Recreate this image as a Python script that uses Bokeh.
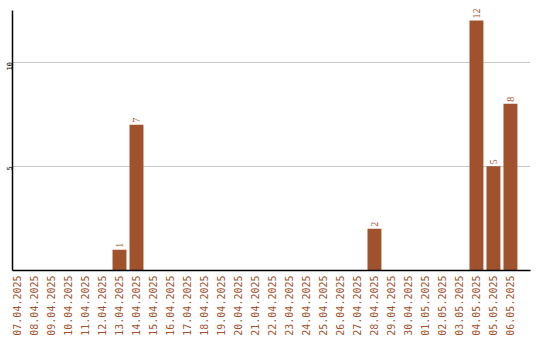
import math
from bokeh.plotting import figure
from bokeh.models import ColumnDataSource, FixedTicker, Range1d, LabelSet
from bokeh.embed import file_html
from bokeh.resources import INLINE

# daily counts
dates = [
    "07.04.2025", "08.04.2025", "09.04.2025", "10.04.2025", "11.04.2025",
    "12.04.2025", "13.04.2025", "14.04.2025", "15.04.2025", "16.04.2025",
    "17.04.2025", "18.04.2025", "19.04.2025", "20.04.2025", "21.04.2025",
    "22.04.2025", "23.04.2025", "24.04.2025", "25.04.2025", "26.04.2025",
    "27.04.2025", "28.04.2025", "29.04.2025", "30.04.2025", "01.05.2025",
    "02.05.2025", "03.05.2025", "04.05.2025", "05.05.2025", "06.05.2025",
]
counts = [0, 0, 0, 0, 0, 0, 1, 7, 0, 0,
          0, 0, 0, 0, 0, 0, 0, 0, 0, 0,
          0, 2, 0, 0, 0, 0, 0, 12, 5, 8]
y_ticks = [5, 10]

BAR = "#a0522d"
FONT = "DejaVu Sans Mono"

idx = list(range(len(dates)))
nz = [i for i in idx if counts[i] > 0]
bars = ColumnDataSource(dict(x=nz, top=[counts[i] for i in nz],
                             label=[str(counts[i]) for i in nz]))

# frame reaches a little above the axis line so the tallest label has room
p = figure(width=540, height=340, output_backend="svg", toolbar_location=None,
           x_range=Range1d(-0.294, 30.18), y_range=Range1d(0, 12.67),
           min_border_left=10, min_border_right=10, min_border_top=6,
           min_border_bottom=70)
p.outline_line_color = None
p.background_fill_color = "white"
p.border_fill_color = "white"

p.vbar(x="x", top="top", width=0.82, source=bars, fill_color=BAR, line_color=None)

# value labels above the bars
p.add_layout(LabelSet(x="x", y="top", text="label", source=bars, angle=math.pi / 2,
                      text_align="left", text_baseline="middle", y_offset=2,
                      text_color=BAR, text_font=FONT, text_font_size="10px"))

# x axis
p.xaxis.ticker = FixedTicker(ticks=idx)
p.xaxis.major_label_overrides = {i: d for i, d in zip(idx, dates)}
p.xaxis.major_label_orientation = math.pi / 2
p.xaxis.major_label_text_color = BAR
p.xaxis.major_label_text_font = FONT
p.xaxis.major_label_text_font_size = "10px"
p.xaxis.major_label_standoff = 5
p.xaxis.major_tick_out = 0
p.xaxis.major_tick_in = 0
p.xaxis.minor_tick_out = 0
p.xaxis.minor_tick_in = 0
p.xaxis.axis_line_color = "black"
p.xaxis.axis_line_width = 1.5

# y axis
p.yaxis.ticker = FixedTicker(ticks=y_ticks)
p.yaxis.bounds = (0, 12.47)
p.yaxis.major_label_orientation = math.pi / 2
p.yaxis.major_label_text_color = "black"
p.yaxis.major_label_text_font = FONT
p.yaxis.major_label_text_font_size = "7px"
p.yaxis.major_label_standoff = 3
p.yaxis.major_tick_out = 0
p.yaxis.major_tick_in = 0
p.yaxis.minor_tick_out = 0
p.yaxis.minor_tick_in = 0
p.yaxis.axis_line_color = "black"
p.yaxis.axis_line_width = 1.5

p.xgrid.grid_line_color = None
p.ygrid.ticker = FixedTicker(ticks=y_ticks)
p.ygrid.grid_line_color = "#c8c8c8"
p.ygrid.grid_line_width = 1

open("out.html", "w").write(file_html(p, INLINE))
